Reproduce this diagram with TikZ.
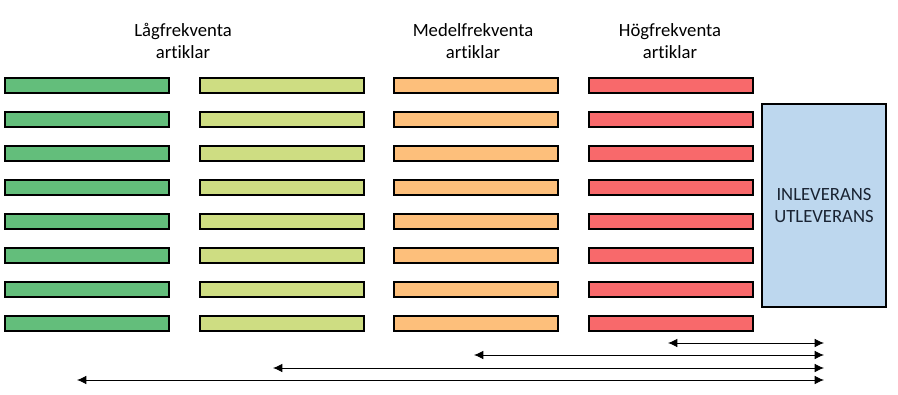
\documentclass[tikz,border=0pt]{standalone}
\usepackage{fontspec}
\setmainfont[Ligatures=NoCommon]{Carlito}
\usepackage{tikz}
\usetikzlibrary{positioning, arrows.meta}

\definecolor{lagA}{RGB}{99,190,123}
\definecolor{lagB}{RGB}{206,221,130}
\definecolor{medel}{RGB}{253,191,123}
\definecolor{hog}{RGB}{248,105,107}
\definecolor{lev}{RGB}{189,215,238}
\definecolor{levtext}{RGB}{25,35,50}

\begin{document}
\begin{tikzpicture}[x=0.75pt, y=-0.75pt,
    bar/.style={rectangle, draw, line width=1.5pt, minimum width=123pt, minimum height=11.5pt, inner sep=0pt},
    rubrik/.style={align=center, font=\fontsize{14}{16.5}\selectfont},
    pil/.style={{Latex[length=7pt, width=6.5pt]}-{Latex[length=7pt, width=6.5pt]}, line width=0.7pt}]
                    \useasboundingbox (0,0) rectangle (898,395);

                    \node[rubrik] (lagtext) at (183, 41) {Lågfrekventa\\artiklar};
                    \node[rubrik] (medeltext) at (473, 41) {Medelfrekventa\\artiklar};
                    \node[rubrik] (hogtext) at (670, 41) {Högfrekventa\\artiklar};

                    \foreach \r in {1,...,8} {
                        \node[bar, fill=lagA] (lagA-\r) at (86.5, 51.5+34*\r) {};
                        \node[bar, fill=lagB] (lagB-\r) at (281.5, 51.5+34*\r) {};
                        \node[bar, fill=medel] (medel-\r) at (476, 51.5+34*\r) {};
                        \node[bar, fill=hog] (hog-\r) at (671, 51.5+34*\r) {};
                    }

                    \node[rectangle, draw, line width=1.5pt, fill=lev, minimum width=93pt, minimum height=152.5pt, align=center,
                          text=levtext, font=\fontsize{14}{17}\selectfont] (lev) at (824, 205.5) {INLEVERANS\\UTLEVERANS};

                    \coordinate (hogstart) at (668, 343);
                    \coordinate (hogslut) at (824, 343);
                    \coordinate (medelstart) at (474, 355);
                    \coordinate (medelslut) at (824, 355);
                    \coordinate (lagBstart) at (273, 368);
                    \coordinate (lagBslut) at (824, 368);
                    \coordinate (lagAstart) at (77, 380);
                    \coordinate (lagAslut) at (824, 380);

                    \draw[pil] (hogstart) -- (hogslut);
                    \draw[pil] (medelstart) -- (medelslut);
                    \draw[pil] (lagBstart) -- (lagBslut);
                    \draw[pil] (lagAstart) -- (lagAslut);
                \end{tikzpicture}
\end{document}
